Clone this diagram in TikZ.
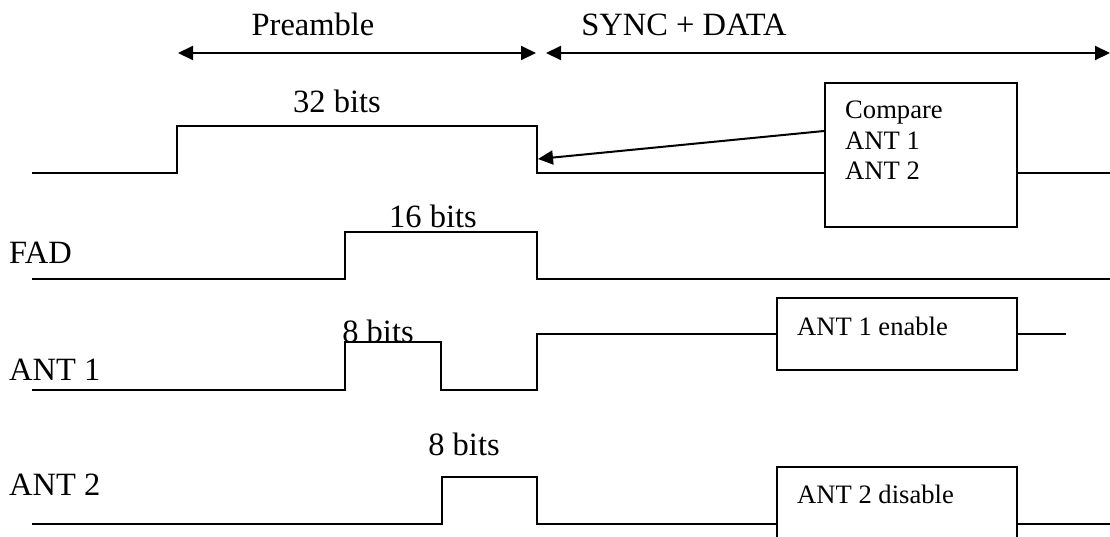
\documentclass[tikz,border=0pt]{standalone}
\usepackage{fontspec}
\setmainfont{Liberation Serif}
\usetikzlibrary{arrows.meta}

\tikzset{
  wave/.style={line width=2pt},
  span/.style={line width=2pt, {Triangle[length=15pt,width=14pt]}-{Triangle[length=15pt,width=14pt]}},
  pointer/.style={line width=2pt, -{Triangle[length=15pt,width=14pt]}},
  bigtxt/.style={font=\fontsize{32.5}{39}\selectfont, inner sep=0pt},
  boxtxt/.style={font=\fontsize{26.6}{30.5}\selectfont, inner sep=0pt, align=left},
  tbox/.style={draw, line width=2pt, inner sep=0pt},
}

\begin{document}
\begin{tikzpicture}[x=1pt, y=-1pt]
    % Timing diagram, units in px of the 1110x536 frame, y grows downwards.
    %   waveforms: top 173/126, FAD 279/232, ANT 1 390/342, ANT 2 524/477
    %   edges at x=177, 345, 441, 537
    \clip (0,0) rectangle (1110,536);

    % headings and span arrows
    \node[bigtxt, anchor=base] (pre) at (313,35) {Preamble};
    \node[bigtxt, anchor=base] (sync) at (684,35) {SYNC + DATA};
    \coordinate (preL) at (178,53);
    \coordinate (preR) at (536,53);
    \coordinate (syncL) at (546,53);
    \coordinate (syncR) at (1110,53);
    \draw[span] (preL) -- (preR);
    \draw[span] (syncL) -- (syncR);

    % boxes
    \node[tbox, minimum width=192pt, minimum height=144pt] (cmpbox) at (921,155) {};
    \node[tbox, minimum width=240pt, minimum height=72pt] (a1box) at (897,334) {};
    \node[tbox, minimum width=240pt, minimum height=84pt] (a2box) at (897,509) {};
    \node[boxtxt, anchor=north west] (cmptxt) at (845,101) {Compare\\ANT 1\\ANT 2};
    \node[boxtxt, anchor=base west] (a1txt) at (797,335) {ANT 1 enable};
    \node[boxtxt, anchor=base west] (a2txt) at (797,503) {ANT 2 disable};

    % signal names and bit counts
    \node[bigtxt, anchor=base west] (fad) at (9,263) {FAD};
    \node[bigtxt, anchor=base west] (ant1) at (9,380) {ANT 1};
    \node[bigtxt, anchor=base west] (ant2) at (9,495) {ANT 2};
    \node[bigtxt, anchor=base] (b32) at (337,112) {32 bits};
    \node[bigtxt, anchor=base] (b16) at (433,227) {16 bits};
    \node[bigtxt, anchor=base] (b8a) at (378,342) {8 bits};
    \node[bigtxt, anchor=base] (b8b) at (464,455) {8 bits};

    % waveforms
    \draw[wave] (32,173) -- (177,173) -- (177,126) -- (537,126) -- (537,173)
      -- (cmpbox.west |- 0,173);
    \draw[wave] (cmpbox.east |- 0,173) -- (1110,173);
    \draw[wave] (32,279) -- (345,279) -- (345,232) -- (537,232) -- (537,279) -- (1110,279);
    \draw[wave] (32,390) -- (345,390) -- (345,342) -- (441,342) -- (441,390) -- (537,390)
      -- (537,334) -- (a1box.west);
    \draw[wave] (a1box.east) -- (1066,334);
    \draw[wave] (32,524) -- (442,524) -- (442,477) -- (537,477) -- (537,524)
      -- (a2box.west |- 0,524);
    \draw[wave] (a2box.east |- 0,524) -- (1110,524);

    % compare result points back to the end of the preamble
    \coordinate (preEnd) at (538,159);
    \draw[pointer] (cmpbox.west) ++(0,-24) -- (preEnd);
\end{tikzpicture}
\end{document}
